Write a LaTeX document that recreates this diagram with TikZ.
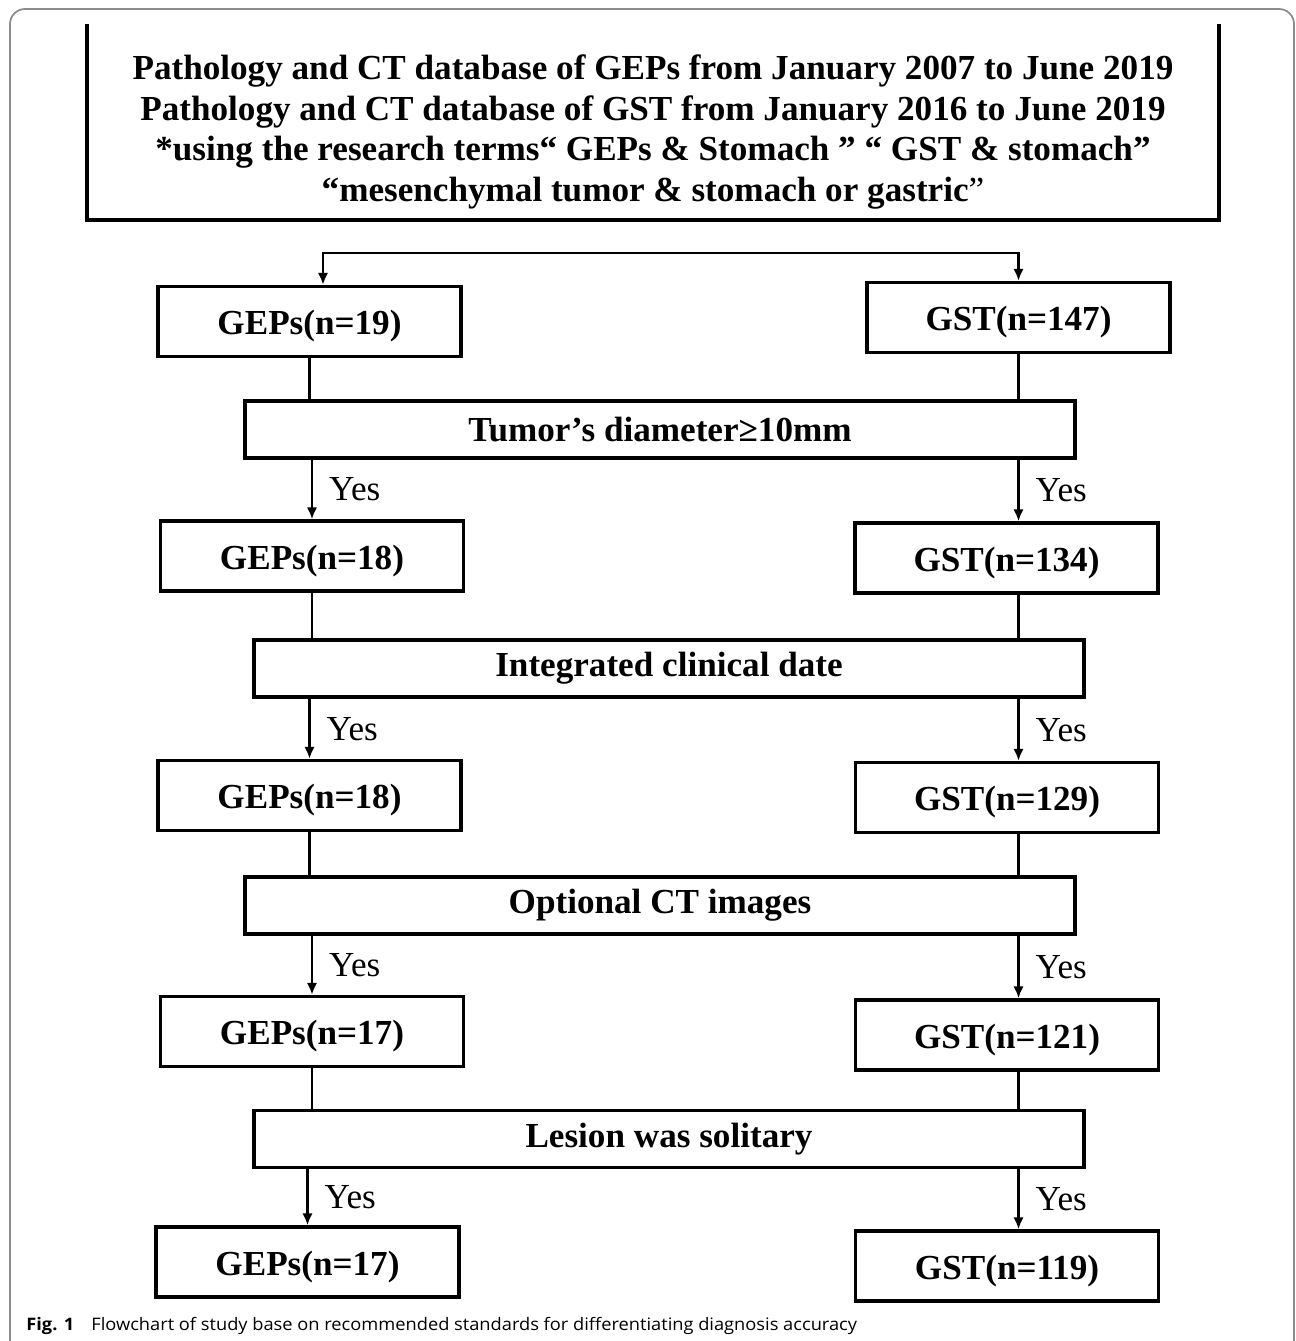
\documentclass[tikz,border=0pt]{standalone}
\usepackage{fontspec}
\setmainfont{Liberation Serif}
\newfontfamily\capfont[FakeStretch=1.06]{Open Sans}
\usetikzlibrary{positioning, arrows.meta}
\newcommand\boxfont{\fontsize{20}{23.3}\selectfont}

\tikzset{
  numbox/.style={draw, line width=2pt, minimum width=6.06cm, minimum height=1.4cm, inner sep=0pt,
    text height=18pt, text depth=3pt, font=\boxfont\bfseries},
  critbox/.style={draw, line width=2pt, minimum width=16.6cm, minimum height=1.14cm, inner sep=0pt, font=\boxfont\bfseries},
  link/.style={line width=1.5pt},
  yes/.style={right=0.2cm, font=\boxfont},
}

\begin{document}
\begin{tikzpicture}[x=0.02cm, y=-0.02cm, >={Latex[length=2.4mm, width=2.1mm]}]
    \useasboundingbox (0,0) rectangle (1295,1341);

    % frame of the figure
    \draw[black!45, line width=1pt, rounded corners=0.3cm] (10,9) rectangle (1294,1365);

    % search box (open at the top)
    \draw[line width=2pt] (87,24) -- (87,220) -- (1219,220) -- (1219,24);
    \node[align=center, font=\boxfont\bfseries] (search) at (653,132)
        {Pathology and CT database of GEPs from January 2007 to June 2019\\
         Pathology and CT database of GST from January 2016 to June 2019\\
         *using the research terms“ GEPs \& Stomach ” “ GST \& stomach”\\
         “mesenchymal tumor \& stomach or gastric{\mdseries ”}};

    % left column
    \node[numbox] (gepsA) at (309.5,321.5) {GEPs(n=19)};
    \node[numbox] (gepsB) at (312,556) {GEPs(n=18)};
    \node[numbox] (gepsC) at (309.5,795.5) {GEPs(n=18)};
    \node[numbox] (gepsD) at (312,1031.5) {GEPs(n=17)};
    \node[numbox] (gepsE) at (307.5,1262) {GEPs(n=17)};

    % right column
    \node[numbox] (gstA) at (1018.5,317.5) {GST(n=147)};
    \node[numbox] (gstB) at (1006.5,558) {GST(n=134)};
    \node[numbox] (gstC) at (1007,797.5) {GST(n=129)};
    \node[numbox] (gstD) at (1007,1035) {GST(n=121)};
    \node[numbox] (gstE) at (1007,1266) {GST(n=119)};

    % criteria
    \node[critbox] (critA) at (660,429.5) {Tumor’s diameter≥10mm};
    \node[critbox] (critB) at (669,668.5) {Integrated clinical date};
    \node[critbox] (critC) at (660,905.5) {Optional CT images};
    \node[critbox] (critD) at (669,1139) {Lesion was solitary};

    % split into the two databases
    \coordinate (fork) at (671,253);
    \draw[link, ->] (fork) -| ([xshift=0.27cm]gepsA.north);
    \draw[link, ->] (fork) -| (gstA.north);

    % lines into the criteria
    \draw[link] (gepsA.south) -- (gepsA.south |- critA.north);
    \draw[link] (gstA.south) -- (gstA.south |- critA.north);
    \draw[link] (gepsB.south) -- (gepsB.south |- critB.north);
    \draw[link] (gstB.south -| gstA) -- (critB.north -| gstA);
    \draw[link] (gepsC.south) -- (gepsC.south |- critC.north);
    \draw[link] (gstC.south -| gstA) -- (critC.north -| gstA);
    \draw[link] (gepsD.south) -- (gepsD.south |- critD.north);
    \draw[link] (gstD.south -| gstA) -- (critD.north -| gstA);

    % arrows out of the criteria
    \draw[link, ->] (critA.south -| gepsB.north) -- node[yes] {Yes} (gepsB.north);
    \draw[link, ->] (critA.south -| gstA) -- node[yes] {Yes} (gstB.north -| gstA);
    \draw[link, ->] (critB.south -| gepsC.north) -- node[yes] {Yes} (gepsC.north);
    \draw[link, ->] (critB.south -| gstA) -- node[yes] {Yes} (gstC.north -| gstA);
    \draw[link, ->] (critC.south -| gepsD.north) -- node[yes] {Yes} (gepsD.north);
    \draw[link, ->] (critC.south -| gstA) -- node[yes] {Yes} (gstD.north -| gstA);
    \draw[link, ->] (critD.south -| gepsE.north) -- node[yes] {Yes} (gepsE.north);
    \draw[link, ->] (critD.south -| gstA) -- node[yes] {Yes} (gstE.north -| gstA);

    % caption
    \node[anchor=base west, inner sep=0pt, font=\capfont\fontsize{9.8}{12}\selectfont] (caption) at (26,1330)
        {\textbf{Fig. 1}\quad Flowchart of study base on recommended standards for differentiating diagnosis accuracy};
\end{tikzpicture}
\end{document}
